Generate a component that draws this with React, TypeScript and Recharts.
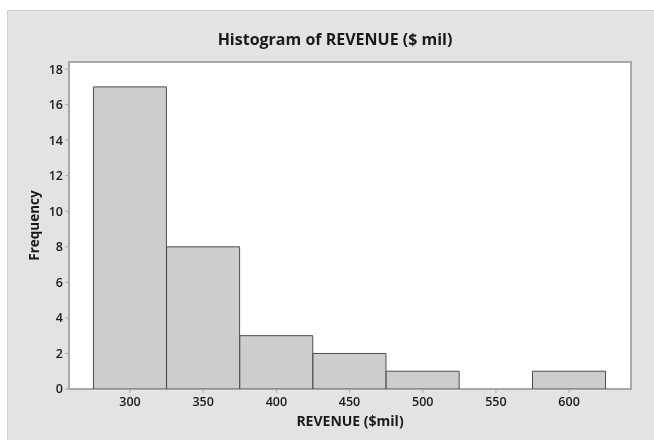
import { ComposedChart, Bar, XAxis, YAxis, CartesianGrid, ReferenceArea } from 'recharts';

const binMids = [300, 350, 400, 450, 500, 550, 600];
const counts = [17, 8, 3, 2, 1, 0, 1];
const xTicks = [300, 350, 400, 450, 500, 550, 600];
const yTicks = [0, 2, 4, 6, 8, 10, 12, 14, 16, 18];
const xDomain = [258.3, 642.3];
const yDomain = [0, 18.4];

const data = binMids.map((mid, i) => ({ mid, count: counts[i] }));

const FONT = '"Open Sans", "Noto Sans", sans-serif';
const AXIS_GRAY = '#a9a9a9';

// rotated y-axis title, centred on the plot height
function YTitle({ viewBox }: any) {
  const x = viewBox.x + 5;
  const y = viewBox.y + viewBox.height / 2;
  return (
    <text
      x={x}
      y={y}
      transform={`rotate(-90, ${x}, ${y})`}
      textAnchor="middle"
      dominantBaseline="central"
      fill="#1a1a1a"
      fontSize={13.5}
      fontWeight={700}
      fontFamily={FONT}
    >
      Frequency
    </text>
  );
}

export default function App() {
  return (
    <div style={{ position: 'fixed', left: 0, top: 0, width: 654, height: 440, background: '#fff' }}>
      <div
        style={{
          position: 'absolute',
          left: 7,
          top: 10,
          width: 647,
          height: 430,
          background: '#e3e3e3',
          boxSizing: 'border-box',
          borderLeft: '1px solid #cfcfcf',
          borderTop: '1px solid #cfcfcf',
        }}
      >
        <div
          style={{
            position: 'absolute',
            left: 7,
            top: 17,
            width: 640,
            textAlign: 'center',
            fontFamily: FONT,
            fontWeight: 700,
            fontSize: 16,
            color: '#1a1a1a',
          }}
        >
          Histogram of REVENUE ($ mil)
        </div>
        <ComposedChart
          width={647}
          height={430}
          data={data}
          margin={{ top: 52, right: 23, bottom: 21, left: 22 }}
          barCategoryGap={0}
          barGap={0}
          style={{ position: 'absolute', left: -1, top: -1 }}
        >
          <CartesianGrid horizontal={false} vertical={false} fill="#ffffff" />
          <XAxis
            dataKey="mid"
            type="number"
            domain={xDomain}
            ticks={xTicks}
            allowDataOverflow
            height={30}
            tickSize={4}
            tickLine={{ stroke: AXIS_GRAY }}
            axisLine={false}
            tick={{ fill: '#1a1a1a', fontSize: 12.5, fontFamily: FONT, fontWeight: 600, dy: 2 }}
            label={{ value: 'REVENUE ($mil)', position: 'insideBottom', offset: -7, fill: '#1a1a1a', fontSize: 14, fontWeight: 700, fontFamily: FONT }}
          />
          <YAxis
            type="number"
            domain={yDomain}
            ticks={yTicks}
            allowDataOverflow
            width={40}
            tickSize={4}
            tickLine={{ stroke: AXIS_GRAY }}
            axisLine={false}
            tick={{ fill: '#1a1a1a', fontSize: 12.5, fontFamily: FONT, fontWeight: 600 }}
            label={<YTitle />}
          />
          <Bar dataKey="count" fill="#cdcdcd" stroke="#4d4d4d" strokeWidth={1} isAnimationActive={false} />
          <ReferenceArea
            x1={xDomain[0]}
            x2={xDomain[1]}
            y1={yDomain[0]}
            y2={yDomain[1]}
            fill="none"
            fillOpacity={0}
            stroke={AXIS_GRAY}
            strokeWidth={2}
            ifOverflow="visible"
          />
        </ComposedChart>
      </div>
    </div>
  );
}
